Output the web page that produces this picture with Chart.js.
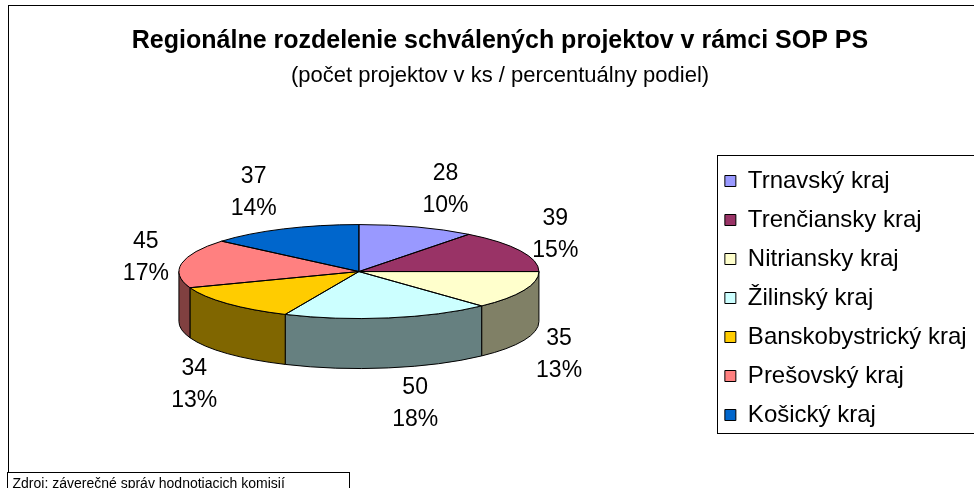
<!DOCTYPE html>
<html>
<head>
<meta charset="utf-8">
<script src="https://cdn.jsdelivr.net/npm/chart.js@4"></script>
<style>
  html, body { margin: 0; padding: 0; overflow: hidden; background: #fff; }
  #wrap { width: 1000px; height: 520px; }
</style>
</head>
<body>
<div id="wrap"><canvas id="myChart" width="1000" height="520"></canvas></div>
<script>
// Data
const regions = ['Trnavský kraj', 'Trenčiansky kraj', 'Nitriansky kraj', 'Žilinský kraj',
                 'Banskobystrický kraj', 'Prešovský kraj', 'Košický kraj'];
const projectCounts = [28, 39, 35, 50, 34, 45, 37];
const shareLabels = ['10%', '15%', '13%', '18%', '13%', '17%', '14%'];
const topColors = ['#9999FF', '#993366', '#FFFFCC', '#CCFFFF', '#FFCC00', '#FF8080', '#0066CC'];
const sideColors = ['#4D4D80', '#4D1A33', '#808066', '#668080', '#806600', '#804040', '#003366'];

const FONT = '"Liberation Sans", Arial, sans-serif';
const tilt = 0.261;   // vertical squash of the pie
const depth = 50;     // thickness of the pie in px

// Draws the pie flattened, with side walls, outlines and labels
const pie3d = {
    id: 'pie3d',
    beforeDatasetsDraw(chart) {
        const ctx = chart.ctx;
        const arcs = chart.getDatasetMeta(0).data;
        const cx = arcs[0].x, cy = arcs[0].y;
        const rx = arcs[0].outerRadius, ry = rx * tilt;

        // front walls (only the part of each slice facing the viewer)
        ctx.save();
        ctx.strokeStyle = '#000';
        ctx.lineWidth = 1;
        arcs.forEach((arc, i) => {
            const s = Math.max(arc.startAngle, 0);
            const e = Math.min(arc.endAngle, Math.PI);
            if (e <= s) return;
            ctx.beginPath();
            ctx.ellipse(cx, cy, rx, ry, 0, s, e);
            ctx.lineTo(cx + rx * Math.cos(e), cy + ry * Math.sin(e) + depth);
            ctx.ellipse(cx, cy + depth, rx, ry, 0, e, s, true);
            ctx.closePath();
            ctx.fillStyle = sideColors[i];
            ctx.fill();
            ctx.stroke();
        });
        ctx.restore();

        // squash the top face
        ctx.save();
        ctx.translate(cx, cy);
        ctx.scale(1, tilt);
        ctx.translate(-cx, -cy);
    },
    afterDatasetsDraw(chart) {
        const ctx = chart.ctx;
        ctx.restore();

        const arcs = chart.getDatasetMeta(0).data;
        const cx = arcs[0].x, cy = arcs[0].y;
        const rx = arcs[0].outerRadius, ry = rx * tilt;

        // outlines of top face
        ctx.save();
        ctx.strokeStyle = '#000';
        ctx.lineWidth = 1;
        arcs.forEach(arc => {
            ctx.beginPath();
            ctx.moveTo(cx, cy);
            ctx.lineTo(cx + rx * Math.cos(arc.startAngle), cy + ry * Math.sin(arc.startAngle));
            ctx.ellipse(cx, cy, rx, ry, 0, arc.startAngle, arc.endAngle);
            ctx.closePath();
            ctx.stroke();
        });

        // value + percentage labels
        ctx.font = '23px ' + FONT;
        ctx.fillStyle = '#000';
        ctx.textAlign = 'center';
        ctx.textBaseline = 'middle';
        arcs.forEach((arc, i) => {
            const mid = (arc.startAngle + arc.endAngle) / 2;
            const c = Math.cos(mid), s = Math.sin(mid);
            const l1 = String(projectCounts[i]), l2 = shareLabels[i];
            const halfW = Math.max(ctx.measureText(l1).width, ctx.measureText(l2).width) / 2;
            const x = cx + (rx + 11) * c + Math.sign(c) * (halfW + 2);
            let y;
            if (s < 0) {
                y = cy + (ry + 42) * s + 2;
            } else {
                // labels below the pie sit under its side wall
                y = cy + (ry + 36) * s + depth + 14 * Math.max(0, -c) * s;
            }
            ctx.fillText(l1, x, y - 16);
            ctx.fillText(l2, x, y + 16);
        });
        ctx.restore();
    }
};

// Chart frame, legend border and source note
const decorations = {
    id: 'decorations',
    afterLayout(chart) {
        // centre title block over the whole frame
        chart.boxes.forEach(b => {
            if (b.options && b.options.position === 'top') {
                b.left = 8;
                b.right = 992;
                b.width = 984;
            }
        });
    },
    beforeDraw(chart) {
        const ctx = chart.ctx;
        ctx.save();
        ctx.strokeStyle = '#000';
        ctx.lineWidth = 1;
        ctx.strokeRect(8.5, 5.5, 1100, 600);
        ctx.restore();
    },
    afterDraw(chart) {
        const ctx = chart.ctx;
        const hb = chart.legend.legendHitBoxes;
        const first = hb[0], last = hb[hb.length - 1];
        ctx.save();
        ctx.strokeStyle = '#000';
        ctx.lineWidth = 1;
        const top = Math.round(first.top + first.height / 2 - 26) + 0.5;
        const bottom = Math.round(last.top + last.height / 2 + 18) + 0.5;
        const left = Math.round(first.left - 8) + 0.5;
        ctx.strokeRect(left, top, 1100, bottom - top);

        // source note
        ctx.fillStyle = '#fff';
        ctx.fillRect(7.5, 472.5, 342, 40);
        ctx.strokeRect(7.5, 472.5, 342, 40);
        ctx.fillStyle = '#000';
        ctx.font = '14px ' + FONT;
        ctx.textBaseline = 'alphabetic';
        ctx.fillText('Zdroj: záverečné správ hodnotiacich komisií', 12.5, 487.5);
        ctx.restore();
    }
};

const ctx = document.getElementById('myChart').getContext('2d');
new Chart(ctx, {
    type: 'pie',
    data: {
        labels: regions,
        datasets: [{
            data: projectCounts,
            backgroundColor: topColors,
            borderWidth: 0,
            radius: 180,
            clip: false
        }]
    },
    options: {
        responsive: false,
        animation: false,
        events: [],
        layout: {
            padding: { left: 8, right: 23.4, top: 0, bottom: 78 }
        },
        plugins: {
            tooltip: { enabled: false },
            title: {
                display: true,
                text: 'Regionálne rozdelenie schválených projektov v rámci SOP PS',
                color: '#000',
                font: { family: FONT, size: 25, weight: 'bold', lineHeight: 1.2 },
                padding: { top: 26, bottom: 6.5 }
            },
            subtitle: {
                display: true,
                text: '(počet projektov v ks / percentuálny podiel)',
                color: '#000',
                font: { family: FONT, size: 22, lineHeight: 1.2 },
                padding: { top: 0, bottom: 12.2 }
            },
            legend: {
                position: 'right',
                align: 'end',
                labels: {
                    color: '#000',
                    font: { family: FONT, size: 24 },
                    boxWidth: 11,
                    boxHeight: 11,
                    padding: 15,
                    generateLabels(chart) {
                        const items = Chart.overrides.pie.plugins.legend.labels.generateLabels(chart);
                        items.forEach(it => { it.strokeStyle = '#000'; it.lineWidth = 1; });
                        return items;
                    }
                }
            }
        }
    },
    plugins: [pie3d, decorations]
});
</script>
</body>
</html>
